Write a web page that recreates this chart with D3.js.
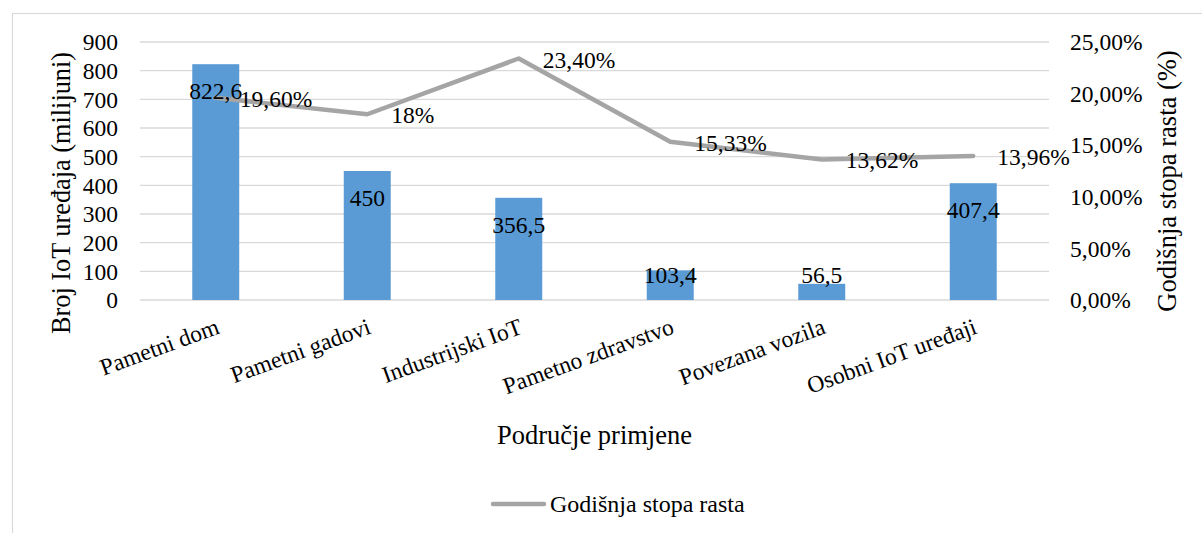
<!DOCTYPE html>
<html>
<head>
<meta charset="utf-8">
<script src="https://cdn.jsdelivr.net/npm/d3@7"></script>
<style>
  html, body { margin: 0; padding: 0; background: #fff; }
  svg { display: block; }
  svg text { font-family: "Liberation Serif", Tinos, "Times New Roman", Times, "DejaVu Serif", serif; fill: #000; }
</style>
</head>
<body>
<div id="chart"></div>
<script>
const categories = ["Pametni dom", "Pametni gadovi", "Industrijski IoT", "Pametno zdravstvo", "Povezana vozila", "Osobni IoT uređaji"];
const devices = [822.6, 450, 356.5, 103.4, 56.5, 407.4];
const deviceLabels = ["822,6", "450", "356,5", "103,4", "56,5", "407,4"];
const growth = [0.196, 0.18, 0.234, 0.1533, 0.1362, 0.1396];
const growthLabels = ["19,60%", "18%", "23,40%", "15,33%", "13,62%", "13,96%"];
const leftTicks = [0, 100, 200, 300, 400, 500, 600, 700, 800, 900];
const rightTicks = [0, 0.05, 0.10, 0.15, 0.20, 0.25];
const rightTickLabels = ["0,00%", "5,00%", "10,00%", "15,00%", "20,00%", "25,00%"];

const W = 1202, H = 533;
const L = 140, R = 1049, T = 42, B = 300;
const FONT = '"Liberation Serif", Tinos, "Times New Roman", Times, "DejaVu Serif", serif';

const svg = d3.select("#chart").append("svg").attr("width", W).attr("height", H)
  .style("font-family", FONT);

svg.append("rect").attr("x", 12.5).attr("y", 13.5).attr("width", 1300).attr("height", 600)
  .attr("fill", "none").attr("stroke", "#D9D9D9").attr("stroke-width", 1.2);

const x = d3.scaleBand().domain(categories).range([L, R]).paddingInner(0.69).paddingOuter(0.345);
const yL = d3.scaleLinear().domain([0, 900]).range([B, T]);
const yR = d3.scaleLinear().domain([0, 0.25]).range([B, T]);
const cx = d => x(d) + x.bandwidth() / 2;

// gridlines
svg.append("g").selectAll("line").data(leftTicks).join("line")
  .attr("x1", L).attr("x2", R)
  .attr("y1", d => yL(d)).attr("y2", d => yL(d))
  .attr("stroke", "#D9D9D9").attr("stroke-width", 1.3);

// left axis
const axL = svg.append("g").attr("transform", `translate(${L - 22},0)`)
  .call(d3.axisLeft(yL).tickValues(leftTicks).tickSize(0).tickPadding(0).tickFormat(d3.format("d")));
axL.attr("font-family", null);
axL.select(".domain").remove();
axL.selectAll("text").attr("font-size", 23.5).attr("dy", "0.33em");

// right axis
const axR = svg.append("g").attr("transform", `translate(${R + 21},0)`)
  .call(d3.axisRight(yR).tickValues(rightTicks).tickSize(0).tickPadding(0).tickFormat((d, i) => rightTickLabels[i]));
axR.attr("font-family", null);
axR.select(".domain").remove();
axR.selectAll("text").attr("font-size", 23.5).attr("dy", "0.33em").attr("text-anchor", "start");

// bars
svg.append("g").selectAll("rect").data(categories).join("rect")
  .attr("x", d => x(d)).attr("width", x.bandwidth())
  .attr("y", (d, i) => yL(devices[i])).attr("height", (d, i) => yL(0) - yL(devices[i]))
  .attr("fill", "#5B9BD5");

// line
const line = d3.line().x((d, i) => cx(categories[i])).y(d => yR(d));
svg.append("path").datum(growth).attr("d", line)
  .attr("fill", "none").attr("stroke", "#A5A5A5").attr("stroke-width", 4.5)
  .attr("stroke-linejoin", "round").attr("stroke-linecap", "round");

// bar labels
svg.append("g").selectAll("text").data(categories).join("text")
  .attr("x", d => cx(d))
  .attr("y", (d, i) => Math.min(yL(devices[i]) + 35, yL(0) - 17))
  .attr("text-anchor", "middle").attr("font-size", 23.5)
  .text((d, i) => deviceLabels[i]);

// line labels
svg.append("g").selectAll("text").data(categories).join("text")
  .attr("x", d => cx(d) + 24)
  .attr("y", (d, i) => yR(growth[i]) + 9)
  .attr("text-anchor", "start").attr("font-size", 23.5)
  .text((d, i) => growthLabels[i]);

// category labels
svg.append("g").selectAll("text").data(categories).join("text")
  .attr("transform", d => `translate(${cx(d) + 5},333) rotate(-20)`)
  .attr("text-anchor", "end").attr("font-size", 23.5)
  .text(d => d);

// axis titles
svg.append("text").attr("transform", `translate(70,193) rotate(-90)`)
  .attr("text-anchor", "middle").attr("font-size", 26.3).text("Broj IoT uređaja (milijuni)");
svg.append("text").attr("transform", `translate(1176,181) rotate(-90)`)
  .attr("text-anchor", "middle").attr("font-size", 26.5).text("Godišnja stopa rasta (%)");
svg.append("text").attr("x", (L + R) / 2).attr("y", 444)
  .attr("text-anchor", "middle").attr("font-size", 26.5).text("Područje primjene");

// legend
const lg = svg.append("g");
lg.append("line").attr("x1", 493).attr("x2", 544).attr("y1", 504).attr("y2", 504)
  .attr("stroke", "#A5A5A5").attr("stroke-width", 4.5).attr("stroke-linecap", "round");
lg.append("text").attr("x", 550).attr("y", 512).attr("font-size", 24).text("Godišnja stopa rasta");
</script>
</body>
</html>
